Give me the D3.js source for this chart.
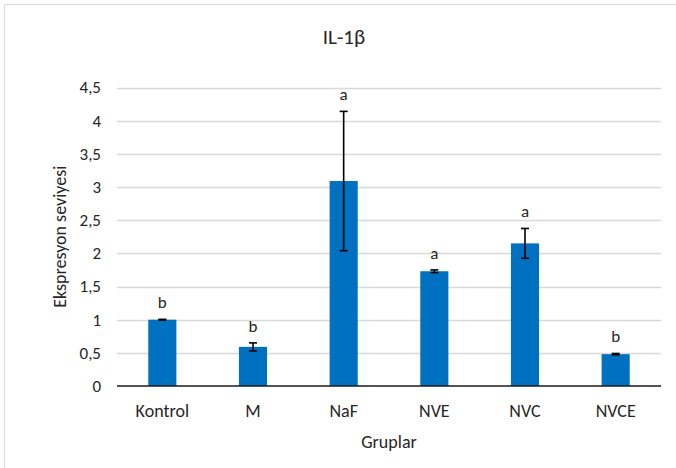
<!DOCTYPE html>
<html>
<head>
<meta charset="utf-8">
<script src="https://cdn.jsdelivr.net/npm/d3@7"></script>
<style>
  html, body { margin: 0; padding: 0; background: #fff; }
  svg { display: block; }
  text { font-family: Calibri, Carlito, Lato, "Open Sans", sans-serif; fill: #262626; }
</style>
</head>
<body>
<script>
// IL-1β expression by group, mean ± error, with significance letters
const categories = ["Kontrol", "M", "NaF", "NVE", "NVC", "NVCE"];
const means      = [1.0, 0.59, 3.09, 1.73, 2.15, 0.48];
const errors     = [0.005, 0.06, 1.05, 0.02, 0.225, 0.01];
const letters    = ["b", "b", "a", "a", "a", "b"];
const yTicks     = [0, 0.5, 1, 1.5, 2, 2.5, 3, 3.5, 4, 4.5];

const W = 676, H = 468;
const plot = { left: 117, right: 661, top: 87.5, bottom: 386 };

const svg = d3.select("body").append("svg")
  .attr("width", W).attr("height", H);

// chart frame
svg.append("rect")
  .attr("x", 4.5).attr("y", 4.5)
  .attr("width", 800).attr("height", 800)
  .attr("fill", "#fff").attr("stroke", "#d9d9d9").attr("stroke-width", 1);

const x = d3.scaleBand()
  .domain(categories)
  .range([plot.left, plot.right])
  .paddingInner(0.69)
  .paddingOuter(0.345);

const y = d3.scaleLinear()
  .domain([0, 4.5])
  .range([plot.bottom, plot.top]);

const fmt = v => String(v).replace(".", ",");

// horizontal gridlines
svg.append("g")
  .selectAll("line")
  .data(yTicks.filter(v => v > 0))
  .join("line")
  .attr("x1", plot.left).attr("x2", plot.right)
  .attr("y1", d => Math.round(y(d)) + 0.5)
  .attr("y2", d => Math.round(y(d)) + 0.5)
  .attr("stroke", "#d9d9d9").attr("stroke-width", 1.3);

// y axis labels (no axis line)
const yAxis = d3.axisLeft(y)
  .tickValues(yTicks)
  .tickFormat(fmt)
  .tickSize(0)
  .tickPadding(16);
const gy = svg.append("g")
  .attr("transform", `translate(${plot.left},0)`)
  .call(yAxis);
gy.select(".domain").remove();
gy.selectAll("text")
  .attr("font-size", 17)
  .attr("fill", "#262626")
  .style("font-family", "Calibri, Carlito, Lato, sans-serif");

// bars
const rows = categories.map((c, i) => ({ c, m: means[i], e: errors[i], l: letters[i] }));

svg.append("g")
  .selectAll("rect")
  .data(rows)
  .join("rect")
  .attr("x", d => x(d.c))
  .attr("width", x.bandwidth())
  .attr("y", d => y(d.m))
  .attr("height", d => y(0) - y(d.m))
  .attr("fill", "#0070c0");

// x axis line and category labels
const xAxis = d3.axisBottom(x).tickSize(0).tickPadding(18);
const gx = svg.append("g")
  .attr("transform", `translate(0,${plot.bottom})`)
  .call(xAxis);
gx.select(".domain")
  .attr("stroke", "#1a1a1a").attr("stroke-width", 1.5)
  .attr("d", `M${plot.left},0H${plot.right}`);
gx.selectAll("text")
  .attr("font-size", 18)
  .attr("fill", "#262626")
  .style("font-family", "Calibri, Carlito, Lato, sans-serif");

// error bars
const cap = 8;
const eb = svg.append("g").attr("stroke", "#000").attr("stroke-width", 1.6);
rows.forEach(d => {
  const cx = x(d.c) + x.bandwidth() / 2;
  const yTop = y(d.m + d.e), yBot = y(d.m - d.e);
  eb.append("line").attr("x1", cx).attr("x2", cx).attr("y1", yTop).attr("y2", yBot);
  eb.append("line").attr("x1", cx - cap / 2).attr("x2", cx + cap / 2).attr("y1", yTop).attr("y2", yTop);
  eb.append("line").attr("x1", cx - cap / 2).attr("x2", cx + cap / 2).attr("y1", yBot).attr("y2", yBot);
});

// significance letters
svg.append("g")
  .selectAll("text")
  .data(rows)
  .join("text")
  .attr("x", d => x(d.c) + x.bandwidth() / 2)
  .attr("y", d => y(d.m + d.e) - 11)
  .attr("text-anchor", "middle")
  .attr("font-size", 17)
  .text(d => d.l);

// title
svg.append("text")
  .attr("x", 344).attr("y", 44)
  .attr("text-anchor", "middle")
  .attr("font-size", 21)
  .text("IL-1β");

// axis titles
svg.append("text")
  .attr("x", (plot.left + plot.right) / 2).attr("y", 448)
  .attr("text-anchor", "middle")
  .attr("font-size", 18)
  .text("Gruplar");

svg.append("text")
  .attr("transform", `translate(66,${(plot.top + plot.bottom) / 2}) rotate(-90)`)
  .attr("text-anchor", "middle")
  .attr("font-size", 18)
  .text("Ekspresyon seviyesi");
</script>
</body>
</html>
